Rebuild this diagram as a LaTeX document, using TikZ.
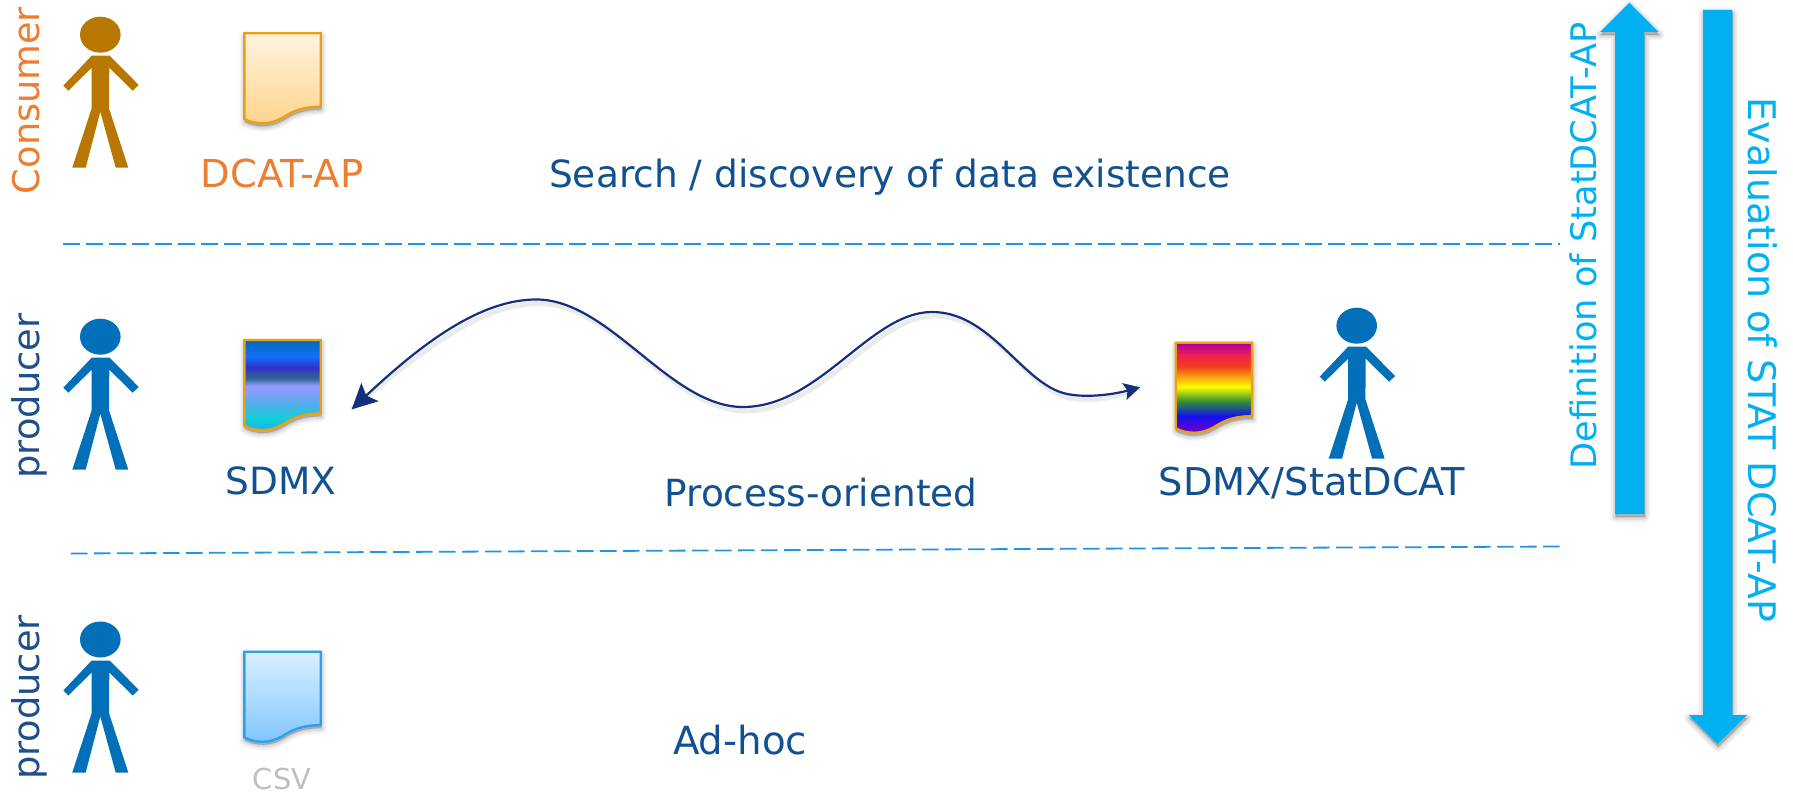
\documentclass[tikz,border=0pt]{standalone}
\usepackage{fontspec}
\setmainfont{DejaVu Sans}
\usetikzlibrary{arrows.meta}
\definecolor{orangetxt}{HTML}{ED7D31}
\definecolor{bluetxt}{HTML}{12518F}
\definecolor{darkbluetxt}{HTML}{1F4E8C}
\definecolor{cyanblue}{HTML}{00B0F0}
\definecolor{dashblue}{HTML}{2095E8}
\definecolor{brownp}{HTML}{B87700}
\definecolor{bluep}{HTML}{0270B8}
\definecolor{curveblue}{HTML}{13307C}
\definecolor{edgeorange}{HTML}{E8A014}
\definecolor{edgeblue}{HTML}{2BA0EE}
% Shadings are fitted so that 25bp..75bp spans the shape (bottom to top).
\pgfdeclareverticalshading{docorange}{100bp}{color(0bp)=(rgb,255:red,255;green,212;blue,140); color(25bp)=(rgb,255:red,255;green,212;blue,140); color(75bp)=(rgb,255:red,255;green,243;blue,222); color(100bp)=(rgb,255:red,255;green,243;blue,222)}
\pgfdeclareverticalshading{docblue}{100bp}{color(0bp)=(rgb,255:red,128;green,198;blue,255); color(25bp)=(rgb,255:red,128;green,198;blue,255); color(75bp)=(rgb,255:red,218;green,239;blue,255); color(100bp)=(rgb,255:red,218;green,239;blue,255)}
\pgfdeclareverticalshading{docsdmx}{100bp}{color(0bp)=(rgb,255:red,32;green,168;blue,248); color(25bp)=(rgb,255:red,32;green,168;blue,248); color(32bp)=(rgb,255:red,12;green,208;blue,212); color(42bp)=(rgb,255:red,96;green,168;blue,240); color(50bp)=(rgb,255:red,152;green,152;blue,255); color(54bp)=(rgb,255:red,48;green,104;blue,144); color(60bp)=(rgb,255:red,48;green,48;blue,200); color(66bp)=(rgb,255:red,16;green,112;blue,248); color(75bp)=(rgb,255:red,8;green,104;blue,184); color(100bp)=(rgb,255:red,8;green,104;blue,184)}
\pgfdeclareverticalshading{docrainbow}{100bp}{color(0bp)=(rgb,255:red,128;green,0;blue,192); color(25bp)=(rgb,255:red,128;green,0;blue,192); color(35bp)=(rgb,255:red,16;green,16;blue,240); color(43bp)=(rgb,255:red,48;green,144;blue,48); color(51bp)=(rgb,255:red,255;green,255;blue,0); color(62bp)=(rgb,255:red,240;green,64;blue,32); color(68bp)=(rgb,255:red,240;green,32;blue,80); color(75bp)=(rgb,255:red,168;green,0;blue,160); color(100bp)=(rgb,255:red,168;green,0;blue,160)}
\newcommand{\softlayers}[1]{%
  \foreach \w/\o in {11/0.035,8/0.045,5/0.055,2/0.07}{%
    \path[fill=black,draw=black,line join=round,fill opacity=\o,draw opacity=\o,line width=\w pt,shift={(0.5,3)}] #1;
  }%
}
\newcommand{\sheetpath}{(244.3,33.3)--(320.7,33.3)--(320.7,106.7)
      .. controls (300,107) and (292,112) .. (282,118)
      .. controls (270,125) and (256,125) .. (244.3,119)--cycle}
\newcommand{\uparrowpath}{(1615,514)--(1615,32)--(1600,32)--(1629.3,2.7)--(1658.7,32)--(1644.3,32)--(1644.3,514)--cycle}
\newcommand{\downarrowpath}{(1703,10)--(1732.3,10)--(1732.3,715)--(1747,715)--(1717.7,744)--(1688.7,715)--(1703,715)--cycle}
\newcommand{\curvepath}{.. controls (420,345) and (480,299) .. (537,299.5)
  .. controls (610,300) and (670,407) .. (743,407)
  .. controls (820,407) and (870,312) .. (932,312)
  .. controls (990,312) and (1020,380) .. (1063,393)
  .. controls (1085,399) and (1115,394) ..}
\tikzset{
  label/.style={inner sep=0pt,outer sep=0pt,anchor=base},
  fs/.style={font=\fontsize{#1}{#1}\selectfont},
  dashline/.style={draw=dashblue,line width=1.8pt,dash pattern=on 16.5pt off 6.5pt},
  bigarrow/.style={fill=cyanblue,draw=none},
  curveline/.style={draw=curveblue,line width=2.2pt,{Stealth[length=25pt,width=25pt,inset=5pt]}-{Stealth[length=16pt,width=17pt,inset=3pt]}},
  curveshadow/.style={draw=black,draw opacity=0.08,fill=none,line width=5pt,shift={(3,4)}},
  person/.pic={
    \fill[pic actions] (100.3,34.7) ellipse [x radius=20.3,y radius=18];
    \fill[pic actions] (91.7,55.7)--(109.7,55.7)--(138.7,85)--(132.7,90.7)--(109.3,67.7)--(109,108.3)--(128.3,167.7)--(115.7,167.7)--(100.3,111.7)--(85.7,167.7)--(72.3,167.7)--(91.7,108.3)--(91.7,67.7)--(68.3,90.7)--(63.3,85.7)--cycle;
  },
  docsheet/.pic={
    \softlayers{\sheetpath}
    \path[pic actions,line width=2.4pt] \sheetpath;
  },
}
\begin{document}
\begin{tikzpicture}[x=1pt,y=-1pt]
\useasboundingbox (0,0) rectangle (1793,794);
\fill[white] (0,0) rectangle (1793,794);

% Dashed separators
\coordinate (d1a) at (63,243.7);
\coordinate (d1b) at (1560,243.7);
\coordinate (d2a) at (71,553.5);
\coordinate (d2b) at (1560,546.5);
\draw[dashline] (d1a) -- (d1b);
\draw[dashline] (d2a) -- (d2b);

% People
\pic[brownp] (consumerfig) at (0,0) {person};
\pic[bluep] (producerfiga) at (0,302) {person};
\pic[bluep] (producerfigb) at (0,604.8) {person};
\pic[bluep] (producerfigc) at (1256.4,291) {person};

% Documents
\pic[draw=edgeorange,shading=docorange] (docdcat) at (0,0) {docsheet};
\pic[draw=edgeorange,shading=docsdmx] (docsdmx) at (0,306.7) {docsheet};
\pic[draw=edgeorange,shading=docrainbow] (docstat) at (931.4,309.4) {docsheet};
\pic[draw=edgeblue,shading=docblue] (doccsv) at (0,618.4) {docsheet};

% Curve
\coordinate (curvea) at (351.7,409.3);
\coordinate (curveb) at (1140,387.3);
\draw[curveshadow] (curvea) \curvepath (curveb);
\draw[curveline] (curvea) \curvepath (curveb);

% Big arrows
\softlayers{\uparrowpath}
\softlayers{\downarrowpath}
\path[bigarrow] \uparrowpath;
\path[bigarrow] \downarrowpath;

% Labels
\node[label,text=orangetxt,rotate=90,fs=36.7] (consumer) at (39,100.5) {Consumer};
\node[label,text=darkbluetxt,rotate=90,fs=36.8] (producera) at (39,396) {producer};
\node[label,text=darkbluetxt,rotate=90,fs=36.8] (producerb) at (39,697.5) {producer};
\node[label,text=orangetxt,fs=38.5] (dcatlabel) at (282,187.5) {DCAT-AP};
\node[label,text=bluetxt,fs=37.5] (search) at (890,187.5) {Search / discovery of data existence};
\node[label,text=bluetxt,fs=37.5] (sdmxlabel) at (281,494) {SDMX};
\node[label,text=bluetxt,fs=37.4] (process) at (821,506) {Process-oriented};
\node[label,text=bluetxt,fs=38.3] (statlabel) at (1312,495) {SDMX/StatDCAT};
\node[label,text=bluetxt,fs=38.7] (adhoc) at (740,754) {Ad-hoc};
\node[label,text=black!25,fs=28.8] (csvlabel) at (282,789) {CSV};
\node[label,text=cyanblue,rotate=90,fs=35.2] (definition) at (1596,246) {Definition of StatDCAT-AP};
\node[label,text=cyanblue,rotate=-90,fs=38] (evaluation) at (1748,360) {Evaluation of STAT DCAT-AP};
\end{tikzpicture}
\end{document}
